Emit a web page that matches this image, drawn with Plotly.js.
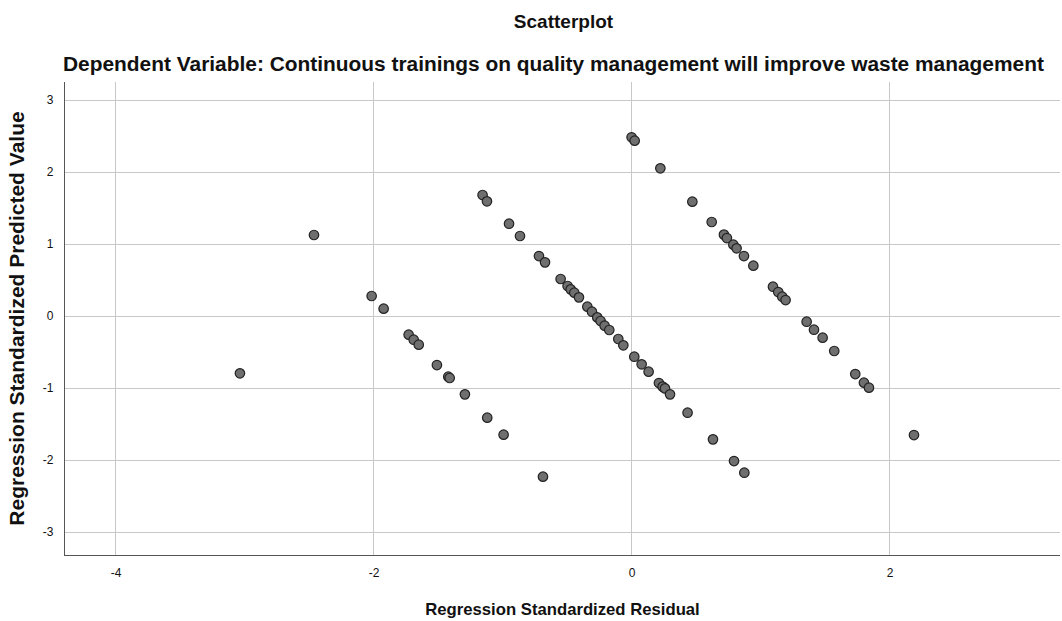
<!DOCTYPE html>
<html>
<head>
<meta charset="utf-8">
<script src="https://cdn.plot.ly/plotly-3.0.1.min.js"></script>
<style>html,body{margin:0;padding:0;background:#fff;}#chart{width:1062px;height:621px;}</style>
</head>
<body>
<div id="chart"></div>
<script>
// Regression Standardized Residual (x) and Regression Standardized Predicted Value (y)
const residuals = [
  -3.039, -2.465, -2.018, -1.925, -1.731, -1.692, -1.653, -1.512, -1.424, -1.413, -1.295, -1.122, -0.995, -0.690,
  -1.158, -1.124, -0.953, -0.868, -0.721, -0.674, -0.553, -0.499, -0.475, -0.447, -0.411, -0.346, -0.310, -0.269,
  -0.243, -0.212, -0.176, -0.106, -0.067, 0.018, 0.075, 0.129, 0.209, 0.238, 0.256, 0.295, 0.431, 0.628, 0.791, 0.871,
  -0.003, 0.021, 0.220, 0.468, 0.618, 0.713, 0.736, 0.786, 0.811, 0.868, 0.941, 1.093, 1.134, 1.165, 1.191,
  1.354, 1.411, 1.478, 1.568, 1.731, 1.798, 1.837, 2.186
];
const predicted = [
  -0.796, 1.125, 0.278, 0.102, -0.259, -0.329, -0.398, -0.681, -0.843, -0.861, -1.088, -1.412, -1.648, -2.231,
  1.681, 1.593, 1.282, 1.111, 0.833, 0.745, 0.514, 0.417, 0.370, 0.324, 0.259, 0.130, 0.060, -0.019,
  -0.069, -0.134, -0.194, -0.319, -0.407, -0.565, -0.671, -0.773, -0.931, -0.981, -1.005, -1.088, -1.343, -1.713, -2.014, -2.176,
  2.482, 2.435, 2.051, 1.588, 1.306, 1.130, 1.083, 0.991, 0.940, 0.833, 0.699, 0.407, 0.333, 0.268, 0.222,
  -0.079, -0.190, -0.301, -0.486, -0.806, -0.926, -0.995, -1.653
];
const xTicks = [-4, -2, 0, 2];
const yTicks = [-3, -2, -1, 0, 1, 2, 3];

const FONT = 'Liberation Sans, Arial, sans-serif';

Plotly.newPlot('chart', [{
  type: 'scatter',
  mode: 'markers',
  x: residuals,
  y: predicted,
  marker: {size: 9.5, color: '#6f6f6f', line: {color: '#222222', width: 1.2}},
  hoverinfo: 'x+y'
}], {
  width: 1062, height: 621,
  paper_bgcolor: '#ffffff', plot_bgcolor: '#ffffff',
  margin: {l: 65, r: 2, t: 82, b: 66},
  showlegend: false,
  font: {family: FONT, color: '#111111'},
  title: {
    text: '<b>Scatterplot</b>',
    font: {family: FONT, size: 19, color: '#111111'},
    x: 0.501, xref: 'paper', xanchor: 'center',
    y: 1 - 21/621, yref: 'container', yanchor: 'middle'
  },
  annotations: [{
    text: '<b>Dependent Variable: Continuous trainings on quality management will improve waste management</b>',
    xref: 'paper', yref: 'paper', x: 0.4907, y: 1 + 19/473, xanchor: 'center', yanchor: 'middle',
    showarrow: false, font: {family: FONT, size: 20.9, color: '#111111'}
  }],
  xaxis: {
    range: [-4.395, 3.318],
    tickvals: xTicks, ticktext: xTicks.map(String),
    showgrid: true, gridcolor: '#c8c8c8', gridwidth: 1.3,
    zeroline: false, showline: true, linecolor: '#555555', linewidth: 1.2,
    ticks: '', ticklabelstandoff: 6, tickfont: {family: FONT, size: 12, color: '#111111'},
    title: {text: '<b>Regression Standardized Residual</b>', font: {family: FONT, size: 16.7, color: '#111111'}, standoff: 24}
  },
  yaxis: {
    range: [-3.319, 3.25],
    tickvals: yTicks, ticktext: yTicks.map(String),
    showgrid: true, gridcolor: '#c8c8c8', gridwidth: 1.3,
    zeroline: false, showline: true, linecolor: '#555555', linewidth: 1.2,
    ticks: '', ticklabelstandoff: 8, tickfont: {family: FONT, size: 12, color: '#111111'},
    title: {text: '<b>Regression Standardized Predicted Value</b>', font: {family: FONT, size: 21, color: '#111111'}, standoff: 12}
  }
}, {displayModeBar: false});
</script>
</body>
</html>
